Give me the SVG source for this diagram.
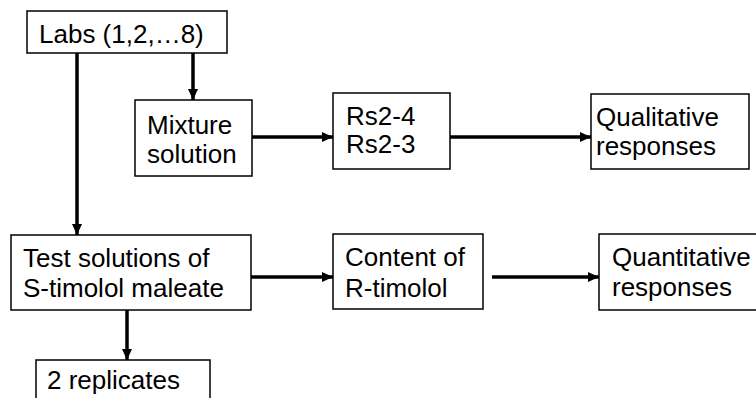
<svg xmlns="http://www.w3.org/2000/svg" width="756" height="398" viewBox="0 0 756 398">
  <style>
    .box { fill: #ffffff; stroke: #000000; stroke-width: 1.5; }
    .lbl { font-family: "Liberation Sans", Arial, sans-serif; font-size: 26px; fill: #000000; }
    .link { fill: none; stroke: #000000; stroke-width: 3.5; }
  </style>
  <defs>
    <marker id="arrow" markerUnits="userSpaceOnUse" markerWidth="12" markerHeight="10" refX="11" refY="5" orient="auto">
      <path d="M0,0 L11,5 L0,10 Z" fill="#000000"/>
    </marker>
  </defs>
  <rect width="756" height="398" fill="#ffffff"/>

  <!-- connectors -->
  <g id="connectors">
    <line class="link" x1="193" y1="53" x2="193" y2="100" marker-end="url(#arrow)"/>
    <line class="link" x1="77" y1="53" x2="77" y2="235" marker-end="url(#arrow)"/>
    <line class="link" x1="252" y1="137" x2="333" y2="137" marker-end="url(#arrow)"/>
    <line class="link" x1="450" y1="137" x2="591" y2="137" marker-end="url(#arrow)"/>
    <line class="link" x1="251" y1="277" x2="333" y2="277" marker-end="url(#arrow)"/>
    <line class="link" x1="492" y1="277" x2="599" y2="277" marker-end="url(#arrow)"/>
    <line class="link" x1="127" y1="310" x2="127" y2="360" marker-end="url(#arrow)"/>
  </g>

  <!-- nodes -->
  <g id="labs">
    <rect class="box" x="27" y="11" width="200" height="42"/>
    <text class="lbl" x="39" y="43">Labs (1,2,…8)</text>
  </g>
  <g id="mixture">
    <rect class="box" x="135" y="100" width="117" height="76"/>
    <text class="lbl" x="147" y="134">Mixture</text>
    <text class="lbl" x="147" y="163">solution</text>
  </g>
  <g id="rs">
    <rect class="box" x="333" y="93" width="117" height="76"/>
    <text class="lbl" x="346" y="125">Rs2-4</text>
    <text class="lbl" x="346" y="153">Rs2-3</text>
  </g>
  <g id="qualitative">
    <rect class="box" x="591" y="94" width="158" height="75"/>
    <text class="lbl" x="596" y="126">Qualitative</text>
    <text class="lbl" x="596" y="155">responses</text>
  </g>
  <g id="test">
    <rect class="box" x="11" y="235" width="240" height="75"/>
    <text class="lbl" x="23" y="267">Test solutions of</text>
    <text class="lbl" x="23" y="297">S-timolol maleate</text>
  </g>
  <g id="content">
    <rect class="box" x="333" y="234" width="150" height="75"/>
    <text class="lbl" x="345" y="266">Content of</text>
    <text class="lbl" x="345" y="297">R-timolol</text>
  </g>
  <g id="quantitative">
    <rect class="box" x="599" y="234" width="160" height="76"/>
    <text class="lbl" x="612" y="266">Quantitative</text>
    <text class="lbl" x="612" y="296">responses</text>
  </g>
  <g id="replicates">
    <rect class="box" x="36" y="360" width="174" height="60"/>
    <text class="lbl" x="47" y="389">2 replicates</text>
  </g>
</svg>
